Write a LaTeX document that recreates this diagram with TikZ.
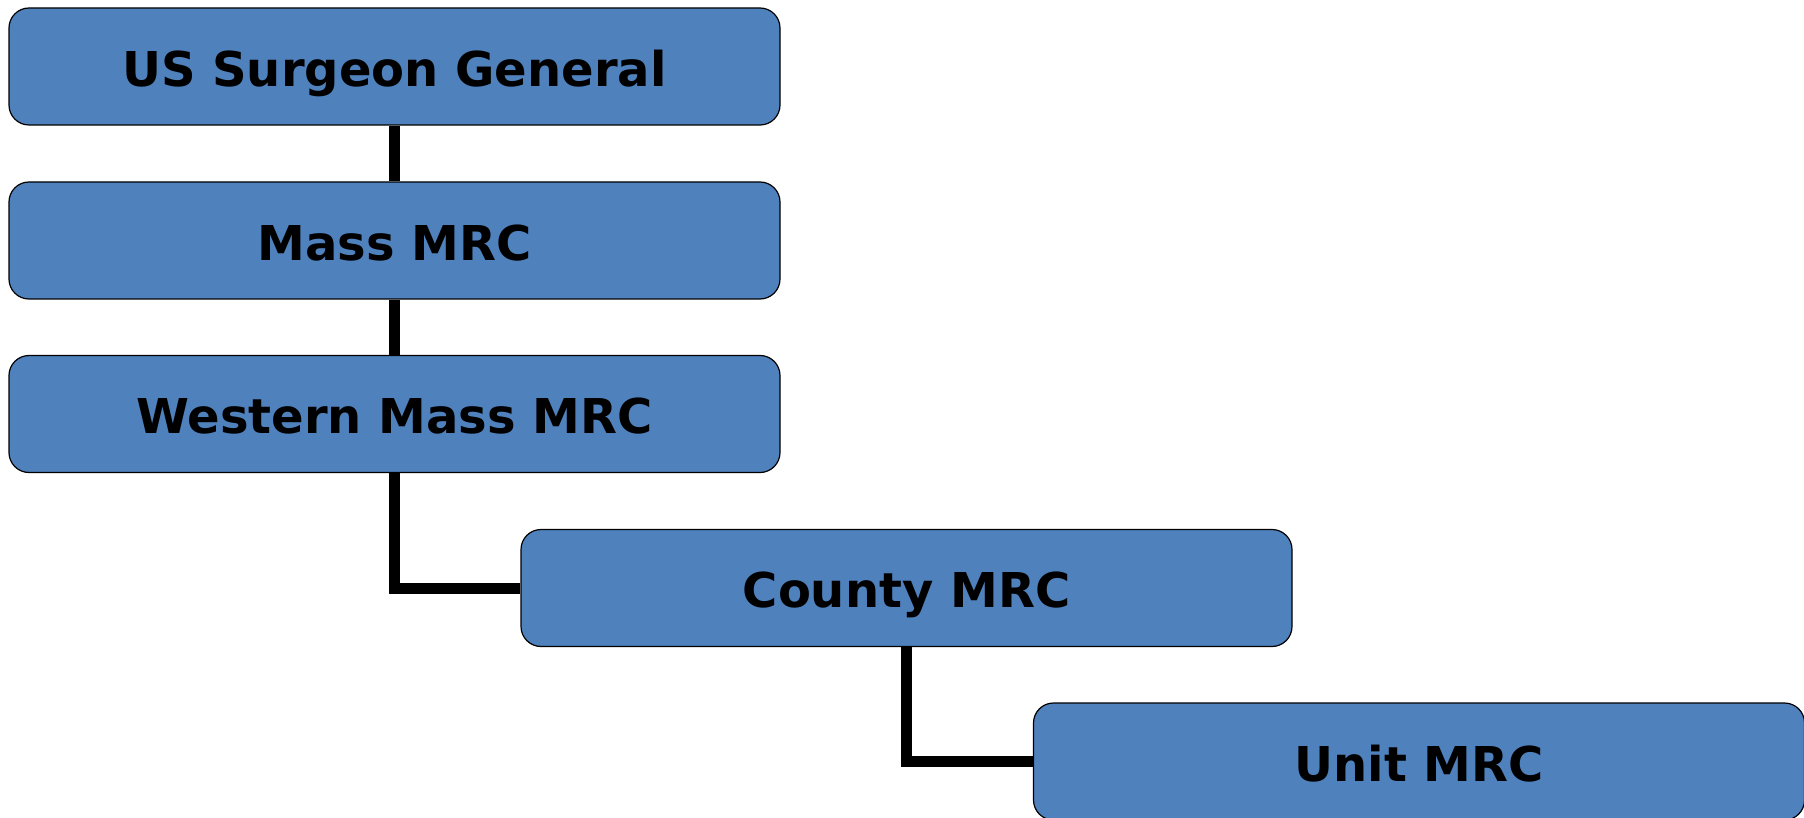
\documentclass[tikz,border=0pt]{standalone}
\usepackage{fontspec}
\setmainfont{DejaVu Sans}
\usetikzlibrary{backgrounds}
\definecolor{boxblue}{HTML}{4F81BD}
\tikzset{
  orgbox/.style={draw=black, line width=0.6pt, fill=boxblue, rounded corners=10pt,
    minimum width=385.5pt, minimum height=58.5pt, inner sep=0pt,
    font=\fontsize{24pt}{28pt}\selectfont\bfseries, text height=19.8pt, text depth=0pt},
  conn/.style={draw=black, line width=5.5pt}
}
\begin{document}
\begin{tikzpicture}[x=0.5pt,y=-0.5pt]
\useasboundingbox (0,0) rectangle (1804,818);
\node[orgbox] (b1) at (394.5,66.5) {US Surgeon General};
\node[orgbox] (b2) at (394.5,240.5) {Mass MRC};
\node[orgbox] (b3) at (394.5,414) {Western Mass MRC};
\node[orgbox] (b4) at (906.5,588) {County MRC};
\node[orgbox] (b5) at (1419,761.5) {Unit MRC};
\begin{scope}[on background layer]
\draw[conn] (b1.south) -- (b2.north);
\draw[conn] (b2.south) -- (b3.north);
\draw[conn] (b3.south) |- (b4.west);
\draw[conn] (b4.south) |- (b5.west);
\end{scope}
\end{tikzpicture}
\end{document}
